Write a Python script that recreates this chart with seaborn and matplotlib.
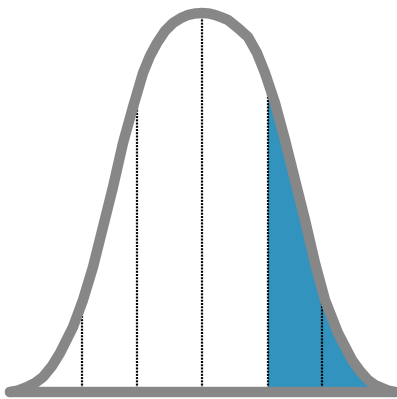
import numpy as np
import pandas as pd
import seaborn as sns
import matplotlib.pyplot as plt

# bell curve: offset from the mean and height above the baseline
curve_x = [-192, -184, -175, -167, -159, -150, -142, -129, -119, -109, -99, -89, -79, -69, -59,
           -52, -45, -37, -29, -21, -14, -7, 0, 7, 13, 20, 26, 36, 46, 55, 63, 73, 83, 93,
           103, 113, 123, 136, 150, 158, 166, 173, 180, 186, 193]
curve_h = [0, 1.5, 5, 9, 15, 26, 39, 65, 92, 125, 165, 205, 249, 285, 319,
           336, 349, 361, 369, 374, 377, 378.5, 379, 378.5, 377, 374.5, 372, 364, 355, 339, 319, 289, 252, 212,
           172, 129, 92, 59, 32, 21, 12, 7, 4, 1.5, 0]

# dotted guide lines and the start of the shaded tail
guide_x = [-120, -65, 0, 65.5, 120]
tail_start = 65.5

GRAY = '#878787'
BLUE = '#3193be'

sns.set_style('white')
df = pd.DataFrame({'x': curve_x, 'h': curve_h})

fig = plt.figure(figsize=(3.97, 3.99), dpi=100)
ax = fig.add_axes([0, 0, 1, 1])

# shaded right tail
xs = np.array(curve_x, dtype=float)
hs = np.array(curve_h, dtype=float)
mask = xs > tail_start
fx = np.concatenate([[tail_start], xs[mask]])
fh = np.concatenate([[np.interp(tail_start, xs, hs)], hs[mask]])
ax.fill_between(fx, 0, fh, color=BLUE, lw=0, zorder=1)

# dotted verticals up to the curve
for gx in guide_x:
    top = np.interp(gx, xs, hs)
    ax.plot([gx, gx], [0, top], color='black', lw=1.6, linestyle=(0, (0.9, 0.55)), zorder=2)

# baseline and curve
ax.plot([curve_x[0], curve_x[-1]], [0, 0], color=GRAY, lw=7.5, solid_capstyle='round', zorder=3)
sns.lineplot(data=df, x='x', y='h', color=GRAY, lw=7.5, ax=ax,
             solid_capstyle='round', solid_joinstyle='round', zorder=4)

ax.set_xlim(-202, 195)
ax.set_ylim(-7, 392)
ax.axis('off')

fig.savefig('out.png', dpi=100)
